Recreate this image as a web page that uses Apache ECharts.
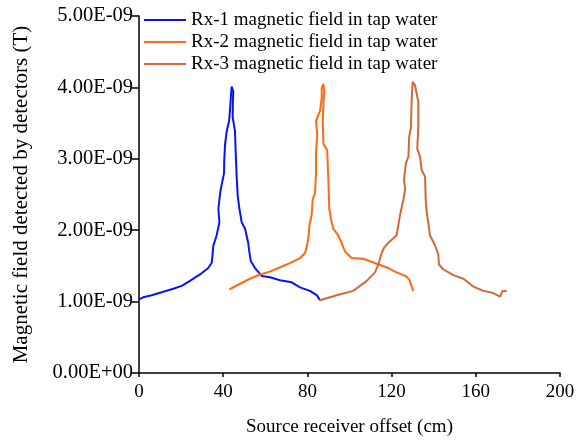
<!DOCTYPE html>
<html>
<head>
<meta charset="utf-8">
<script src="https://cdn.jsdelivr.net/npm/echarts@6/dist/echarts.min.js"></script>
<style>html,body{margin:0;padding:0;background:#fff}#c{width:578px;height:442px}</style>
</head>
<body>
<div id="c"></div>
<script>
// Values of field in units of 1e-9 T
const Y_UNIT = 1e-9;
const seriesNames = ['Rx-1 magnetic field in tap water','Rx-2 magnetic field in tap water','Rx-3 magnetic field in tap water'];
const xTicks = [0, 40, 80, 120, 160, 200];
const yTicks = [0, 1, 2, 3, 4, 5];

const rx1X = [0, 2, 6, 10.8, 16.3, 20.3, 24.2, 29, 32.9, 34.5, 34.8, 35.3, 36.9, 38.2, 37.7, 38.2, 38.8, 39.6, 40.4, 40.5, 40.9, 41.7, 42.8, 43.2, 43.6, 44.0, 44.8, 44.6, 45.3, 44.6, 44.5, 45.6, 45.9, 46.4, 46.9, 47.7, 48.8, 50.4, 51.9, 52.4, 53.1, 55.1, 58.3, 62.2, 67, 72.5, 76.5, 81.2, 84.4, 86];
const rx1Y = [1.03, 1.06, 1.09, 1.13, 1.18, 1.22, 1.29, 1.38, 1.47, 1.54, 1.61, 1.78, 1.93, 2.11, 2.30, 2.43, 2.57, 2.68, 2.80, 2.98, 3.21, 3.39, 3.53, 3.67, 3.85, 4.01, 3.94, 3.80, 3.82, 3.78, 3.58, 3.39, 3.12, 2.75, 2.48, 2.30, 2.11, 2.02, 1.82, 1.70, 1.57, 1.47, 1.36, 1.34, 1.30, 1.27, 1.20, 1.15, 1.09, 1.02];

const rx2X = [42.9, 48, 52.7, 57.5, 62.2, 66.2, 71.7, 76.5, 78.9, 79.7, 80.4, 81, 82, 82.5, 83.6, 84.1, 84.1, 84.4, 84.7, 84.1, 86, 86.8, 86.8, 87.6, 88, 87.6, 87.3, 87.6, 89.4, 89.9, 90.4, 91.5, 92.3, 94.2, 96.3, 97.9, 101, 106.6, 112.9, 118.4, 121.6, 127.2, 128.5, 130.3];
const rx2Y = [1.17, 1.25, 1.32, 1.38, 1.42, 1.47, 1.54, 1.61, 1.68, 1.77, 1.88, 2.07, 2.21, 2.43, 2.52, 2.80, 3.07, 3.23, 3.32, 3.53, 3.67, 3.85, 3.99, 4.05, 3.94, 3.76, 3.53, 3.21, 3.12, 2.75, 2.30, 2.11, 2.02, 1.95, 1.82, 1.70, 1.61, 1.60, 1.53, 1.47, 1.42, 1.35, 1.30, 1.15];

const rx3X = [86, 93.9, 101.8, 108.2, 112.1, 113.7, 115.3, 116.5, 118.4, 122.4, 124, 125.6, 126.4, 125.9, 126.8, 128, 128.3, 129.2, 129.5, 130, 131.1, 132.7, 132.7, 132.2, 133.5, 134.3, 135.9, 136.2, 136.7, 137.4, 138.2, 140.6, 142.2, 142.5, 144.6, 149.3, 154.1, 158.9, 163.6, 168.3, 171.5, 172.7, 174.7];
const rx3Y = [1.02, 1.09, 1.15, 1.29, 1.41, 1.52, 1.68, 1.76, 1.82, 1.93, 2.21, 2.43, 2.57, 2.71, 2.94, 3.03, 3.30, 3.44, 3.80, 4.08, 4.03, 3.80, 3.44, 3.14, 3.03, 2.84, 2.75, 2.43, 2.25, 2.11, 1.93, 1.79, 1.66, 1.52, 1.45, 1.37, 1.32, 1.21, 1.15, 1.12, 1.07, 1.15, 1.15];

const colors = ['#0a14f0', '#ff6a10', '#d06a38'];
const FONT = "'Liberation Serif','Times New Roman',serif";

function pairs(xs, ys) { return xs.map((x, i) => [x, ys[i] * Y_UNIT]); }
function fmtSci(v) {
  if (Math.abs(v) < 1e-20) return '0.00E+00';
  let e = Math.floor(Math.log10(Math.abs(v)) + 1e-9);
  let m = v / Math.pow(10, e);
  let s = e < 0 ? '-' : '+';
  let ea = Math.abs(e);
  return m.toFixed(2) + 'E' + s + (ea < 10 ? '0' + ea : '' + ea);
}

const chart = echarts.init(document.getElementById('c'), null, {renderer: 'canvas'});
const data = [pairs(rx1X, rx1Y), pairs(rx2X, rx2Y), pairs(rx3X, rx3Y)];
chart.setOption({
  animation: false,
  backgroundColor: '#fff',
  textStyle: {fontFamily: FONT},
  grid: {left: 139, right: 18, top: 16, bottom: 61},
  legend: {
    orient: 'vertical', left: 139, top: 4, itemGap: 0,
    itemWidth: 42, itemHeight: 2, icon: 'rect',
    textStyle: {fontFamily: FONT, fontSize: 19, color: '#000', lineHeight: 22},
    data: seriesNames
  },
  xAxis: {
    type: 'value', min: xTicks[0], max: xTicks[xTicks.length - 1], interval: 40,
    name: 'Source receiver offset (cm)', nameLocation: 'middle', nameGap: 45,
    nameTextStyle: {fontFamily: FONT, fontSize: 19, color: '#000'},
    axisLine: {lineStyle: {color: '#000', width: 1.5}},
    axisTick: {show: true, inside: false, length: 4, lineStyle: {color: '#000', width: 1.5}},
    axisLabel: {fontFamily: FONT, fontSize: 19, color: '#000', margin: 10},
    splitLine: {show: false}
  },
  yAxis: {
    type: 'value', min: yTicks[0] * Y_UNIT, max: yTicks[yTicks.length - 1] * Y_UNIT, interval: Y_UNIT,
    name: 'Magnetic field detected by detectors (T)', nameLocation: 'middle', nameGap: 107, nameRotate: 90,
    nameTextStyle: {fontFamily: FONT, fontSize: 21, color: '#000'},
    axisLine: {show: true, lineStyle: {color: '#000', width: 1.5}},
    axisTick: {show: true, inside: false, length: 7, lineStyle: {color: '#000', width: 1.5}},
    axisLabel: {fontFamily: FONT, fontSize: 20.5, color: '#000', margin: 6, formatter: fmtSci},
    splitLine: {show: false}
  },
  series: seriesNames.map((n, i) => ({
    name: n, type: 'line', data: data[i], showSymbol: false, symbol: 'none',
    lineStyle: {color: colors[i], width: 2}, itemStyle: {color: colors[i]}, smooth: false
  }))
});
</script>
</body>
</html>
